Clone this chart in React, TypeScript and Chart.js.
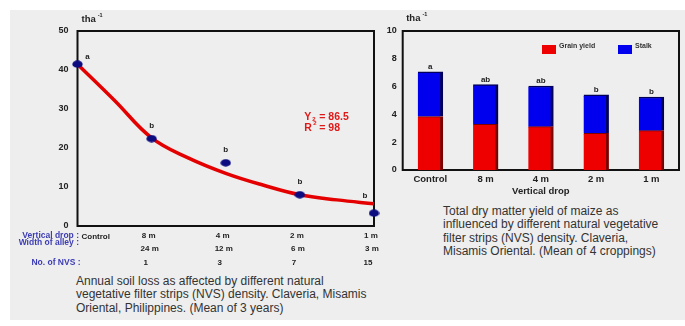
import React, { useEffect, useRef } from "react";
import { Chart, registerables } from "chart.js";

Chart.register(...registerables);

// ---------- Left chart: annual soil loss ----------
const soilCategories = ["Control", "8 m", "4 m", "2 m", "1 m"];
const alleyWidths = ["", "24 m", "12 m", "6 m", "3 m"];
const nvsCounts = ["", "1", "3", "7", "15"];
const soilLoss = [41.5, 22.4, 16.2, 8.0, 3.3];
const soilLetters = ["a", "b", "b", "b", "b"];
const fitX = [0, 0.5, 1, 1.5, 2, 2.5, 3, 3.5, 4];
const fitY = [41.5, 32.2, 22.6, 17.4, 13.5, 10.5, 8.0, 6.7, 5.7];
const soilYMax = 50;
const soilYStep = 10;

// ---------- Right chart: total dry matter yield ----------
const yieldCategories = ["Control", "8 m", "4 m", "2 m", "1 m"];
const grainYield = [3.84, 3.29, 3.12, 2.64, 2.83];
const stalkYield = [3.23, 2.85, 2.92, 2.76, 2.42];
const yieldLetters = ["a", "ab", "ab", "b", "b"];
const yieldYMax = 10;
const yieldYStep = 2;

const FONT = '"Liberation Sans", Arial, Helvetica, sans-serif';

function makeEllipse(w: number, h: number, color: string) {
  const c = document.createElement("canvas");
  c.width = w;
  c.height = h;
  const g = c.getContext("2d")!;
  g.fillStyle = color;
  g.beginPath();
  g.ellipse(w / 2, h / 2, w / 2 - 0.3, h / 2 - 0.3, 0, 0, Math.PI * 2);
  g.fill();
  return c;
}

function drawUnit(ctx: CanvasRenderingContext2D, x: number, y: number) {
  ctx.save();
  ctx.fillStyle = "#222";
  ctx.textBaseline = "middle";
  ctx.textAlign = "left";
  ctx.font = `bold 9.5px ${FONT}`;
  ctx.fillText("tha", x, y);
  const w = ctx.measureText("tha").width;
  ctx.font = `bold 5.5px ${FONT}`;
  ctx.fillText("-1", x + w + 2, y - 4);
  ctx.restore();
}

const boxPlugin = {
  id: "boxPlugin",
  beforeDatasetsDraw(chart: any) {
    const { ctx, chartArea } = chart;
    ctx.save();
    ctx.strokeStyle = "#111";
    ctx.lineWidth = 2;
    ctx.strokeRect(chartArea.left, chartArea.top, chartArea.right - chartArea.left, chartArea.bottom - chartArea.top);
    ctx.restore();
  },
};

const leftPlugin = {
  id: "leftPlugin",
  afterDraw(chart: any) {
    const { ctx, chartArea } = chart;
    const xs = chart.scales.x;
    const ys = chart.scales.y;
    ctx.save();
    // letters above points
    ctx.fillStyle = "#222";
    ctx.font = `bold 8px ${FONT}`;
    ctx.textAlign = "center";
    ctx.textBaseline = "middle";
    soilLoss.forEach((v, i) => {
      const px = xs.getPixelForValue(i);
      const py = ys.getPixelForValue(v);
      let dx = 0;
      let dy = -13;
      if (i === 0) { dx = 10; dy = -7; }
      if (i === soilLoss.length - 1) { dx = -9; dy = -17; }
      ctx.fillText(soilLetters[i], px + dx, py + dy);
    });
    // regression annotation
    ctx.fillStyle = "#e01818";
    ctx.textAlign = "left";
    const ax = xs.getPixelForValue(3.06);
    const ay1 = ys.getPixelForValue(28);
    const ay2 = ys.getPixelForValue(25.2);
    ctx.font = `bold 10.5px ${FONT}`;
    ctx.fillText("Y", ax, ay1);
    ctx.fillText("= 86.5", ax + 15, ay1);
    ctx.fillText("R", ax, ay2);
    ctx.fillText("= 98", ax + 15, ay2);
    ctx.font = `bold 6px ${FONT}`;
    ctx.fillText("2", ax + 8, ay1 + 3);
    ctx.fillText("2", ax + 9, ay2 - 4);

    // x labels rows
    const rowY1 = chartArea.bottom + 9.5;
    const rowY2 = chartArea.bottom + 17;
    const rowY2v = chartArea.bottom + 23;
    const rowY3 = chartArea.bottom + 37;
    ctx.fillStyle = "#3d3db5";
    ctx.textAlign = "right";
    ctx.font = `bold 8.5px ${FONT}`;
    ctx.fillText("Vertical drop :", chartArea.left + 1.5, rowY1);
    ctx.fillText("Width of alley :", chartArea.left + 1.5, rowY2);
    ctx.fillText("No. of NVS :", chartArea.left + 3, rowY3);
    ctx.fillStyle = "#222";
    ctx.font = `bold 8px ${FONT}`;
    soilCategories.forEach((c, i) => {
      const px = xs.getPixelForValue(i);
      if (i === 0) {
        ctx.textAlign = "left";
        ctx.fillText(c, px + 4, rowY1 + 1);
      } else {
        ctx.textAlign = "center";
        ctx.fillText(c, px - 3, rowY1);
        ctx.fillText(alleyWidths[i], px - 2, rowY2v);
        ctx.fillText(nvsCounts[i], px - 6, rowY3);
      }
    });
    ctx.restore();
    drawUnit(ctx, chartArea.left + 4, 19);
  },
};

const rightPlugin = {
  id: "rightPlugin",
  afterDraw(chart: any) {
    const { ctx, chartArea } = chart;
    const xs = chart.scales.x;
    const ys = chart.scales.y;
    ctx.save();
    ctx.fillStyle = "#222";
    ctx.font = `bold 8px ${FONT}`;
    ctx.textAlign = "center";
    ctx.textBaseline = "bottom";
    yieldCategories.forEach((_, i) => {
      const px = xs.getPixelForValue(i);
      const py = ys.getPixelForValue(grainYield[i] + stalkYield[i]);
      ctx.fillText(yieldLetters[i], px, py - 1);
    });
    // legend
    const items = [
      { label: "Grain yield", color: "#ee0000", x: 162 },
      { label: "Stalk", color: "#0000ee", x: 238 },
    ];
    ctx.textAlign = "left";
    ctx.textBaseline = "middle";
    ctx.font = `bold 7px ${FONT}`;
    items.forEach((it) => {
      ctx.fillStyle = it.color;
      ctx.fillRect(it.x, 45, 14, 9);
      ctx.fillStyle = "#333";
      ctx.fillText(it.label, it.x + 17, 46);
    });
    ctx.restore();
    drawUnit(ctx, chartArea.left + 3.5, 18);
  },
};

export default function App() {
  const leftRef = useRef<HTMLCanvasElement>(null);
  const rightRef = useRef<HTMLCanvasElement>(null);

  useEffect(() => {
    Chart.defaults.font.family = FONT;
    const pointImg = makeEllipse(11, 8, "#0c0c80");

    const left = new Chart(leftRef.current!, {
      type: "line",
      data: {
        datasets: [
          {
            type: "line",
            data: fitX.map((x, i) => ({ x, y: fitY[i] })),
            borderColor: "#e40000",
            borderWidth: 3.5,
            pointRadius: 0,
            tension: 0.4,
            order: 2,
            clip: false,
          } as any,
          {
            type: "scatter",
            data: soilLoss.map((y, i) => ({ x: i, y })),
            pointStyle: pointImg,
            backgroundColor: "#0c0c80",
            borderColor: "#0c0c80",
            pointRadius: 5,
            order: 1,
            clip: false,
          } as any,
        ],
      },
      options: {
        animation: false,
        responsive: false,
        layout: { padding: { top: 31, right: 5, left: 0, bottom: 0 } },
        plugins: { legend: { display: false }, tooltip: { enabled: false } },
        scales: {
          x: {
            type: "linear",
            min: 0,
            max: soilCategories.length - 1,
            grid: { display: false, drawTicks: false },
            border: { display: false },
            ticks: { display: false },
            afterFit: (s: any) => { s.height = 46; },
          },
          y: {
            min: 0,
            max: soilYMax,
            ticks: { stepSize: soilYStep, font: { weight: "bold", size: 9 }, color: "#222", padding: 9 },
            grid: { display: false, drawTicks: false },
            border: { display: false },
            afterFit: (s: any) => { s.width = 77.5; },
          },
        },
      } as any,
      plugins: [boxPlugin, leftPlugin],
    });

    const right = new Chart(rightRef.current!, {
      type: "bar",
      data: {
        labels: yieldCategories,
        datasets: [
          {
            label: "Grain yield",
            data: grainYield,
            backgroundColor: "#ee0000",
            borderColor: "#7a0000",
            borderWidth: { top: 1, right: 3, bottom: 0, left: 0 },
            borderSkipped: false,
            barThickness: 25,
          } as any,
          {
            label: "Stalk",
            data: stalkYield,
            backgroundColor: "#0000ee",
            borderColor: "#00005a",
            borderWidth: { top: 1.5, right: 3, bottom: 0, left: 0 },
            borderSkipped: false,
            barThickness: 25,
          } as any,
        ],
      },
      options: {
        animation: false,
        responsive: false,
        layout: { padding: { top: 31, right: 6, left: 0, bottom: 0 } },
        plugins: { legend: { display: false }, tooltip: { enabled: false } },
        scales: {
          x: {
            stacked: true,
            grid: { display: false, drawTicks: false },
            border: { display: false },
            ticks: { font: { weight: "bold", size: 9.5 }, color: "#222", padding: 4, maxRotation: 0 },
            title: {
              display: true,
              text: "Vertical drop",
              font: { weight: "bold", size: 9.5 },
              color: "#222",
              padding: { top: 0, bottom: 3 },
            },
            afterFit: (s: any) => { s.height = 30; },
          },
          y: {
            stacked: true,
            min: 0,
            max: yieldYMax,
            ticks: { stepSize: yieldYStep, font: { weight: "bold", size: 9 }, color: "#222", padding: 6 },
            grid: { display: false, drawTicks: false },
            border: { display: false },
            afterFit: (s: any) => { s.width = 22.7; },
          },
        },
      } as any,
      plugins: [boxPlugin, rightPlugin],
    });

    return () => {
      left.destroy();
      right.destroy();
    };
  }, []);

  const captionStyle: React.CSSProperties = {
    position: "absolute",
    fontFamily: FONT,
    fontSize: 12,
    lineHeight: "13.4px",
    color: "#333",
    whiteSpace: "pre",
  };

  return (
    <div
      style={{
        position: "fixed",
        left: 0,
        top: 0,
        width: 685,
        height: 326,
        background: "#ffffff",
        overflow: "hidden",
        fontFamily: FONT,
      }}
    >
      <div style={{ position: "absolute", left: 10, top: 10, width: 675, height: 310, background: "#eeeeee" }} />
      <div style={{ position: "absolute", left: 0, top: 0, width: 380, height: 272 }}>
        <canvas ref={leftRef} width={380} height={272} style={{ width: 380, height: 272, display: "block" }} />
      </div>
      <div style={{ position: "absolute", left: 380, top: 0, width: 305, height: 200 }}>
        <canvas ref={rightRef} width={305} height={200} style={{ width: 305, height: 200, display: "block" }} />
      </div>
      <div style={{ ...captionStyle, left: 76, top: 275 }}>
        {"Annual soil loss as affected by different natural\nvegetative filter strips (NVS) density. Claveria, Misamis\nOriental, Philippines. (Mean of 3 years)"}
      </div>
      <div style={{ ...captionStyle, left: 443, top: 205 }}>
        {"Total dry matter yield of maize as\ninfluenced by different natural vegetative\nfilter strips (NVS) density. Claveria,\nMisamis Oriental. (Mean of 4 croppings)"}
      </div>
    </div>
  );
}
